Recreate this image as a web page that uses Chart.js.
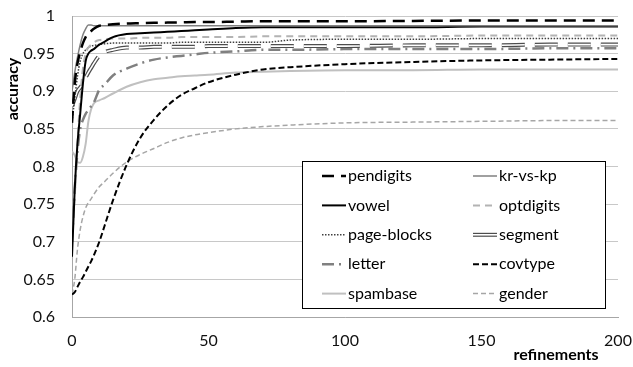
<!DOCTYPE html>
<html>
<head>
<meta charset="utf-8">
<script src="https://cdn.jsdelivr.net/npm/chart.js@4.4.0/dist/chart.umd.min.js"></script>
<style>
  html, body { margin: 0; padding: 0; background: #fff; }
  #wrap { width: 633px; height: 367px; position: relative; }
</style>
</head>
<body>
<div id="wrap"><canvas id="grafico" width="633" height="367"></canvas></div>
<script>
// refinement steps (x) shared by all series
const refinements = [0, 1, 2, 3, 4, 5, 6, 7, 8, 10, 12, 15, 20, 25, 30, 35, 40, 45, 50, 60, 70, 80, 100, 125, 150, 175, 200];

// accuracy per dataset
const pendigits  = [0.858, 0.91, 0.937, 0.952, 0.964, 0.972, 0.977, 0.980, 0.983, 0.987, 0.988, 0.989, 0.990, 0.9905, 0.991, 0.9912, 0.9915, 0.992, 0.992, 0.9925, 0.993, 0.993, 0.993, 0.9935, 0.994, 0.994, 0.994];
const krvskp     = [0.90, 0.925, 0.945, 0.962, 0.975, 0.983, 0.988, 0.988, 0.987, 0.987, 0.987, 0.987, 0.987, 0.987, 0.987, 0.987, 0.987, 0.987, 0.987, 0.987, 0.987, 0.987, 0.987, 0.987, 0.987, 0.987, 0.987];
const vowel      = [0.68, 0.77, 0.83, 0.87, 0.91, 0.94, 0.95, 0.954, 0.956, 0.962, 0.966, 0.972, 0.976, 0.977, 0.978, 0.979, 0.980, 0.981, 0.982, 0.984, 0.985, 0.985, 0.985, 0.985, 0.986, 0.986, 0.986];
const optdigits  = [0.70, 0.76, 0.83, 0.89, 0.93, 0.95, 0.958, 0.962, 0.965, 0.968, 0.969, 0.970, 0.970, 0.971, 0.971, 0.971, 0.972, 0.972, 0.972, 0.972, 0.973, 0.973, 0.973, 0.973, 0.974, 0.974, 0.974];
const pageBlocks = [0.86, 0.89, 0.92, 0.94, 0.95, 0.955, 0.958, 0.96, 0.961, 0.962, 0.963, 0.964, 0.964, 0.964, 0.964, 0.964, 0.965, 0.965, 0.965, 0.965, 0.965, 0.968, 0.969, 0.969, 0.970, 0.970, 0.970];
const segment    = [0.88, 0.89, 0.90, 0.905, 0.91, 0.918, 0.925, 0.931, 0.937, 0.947, 0.952, 0.955, 0.958, 0.958, 0.959, 0.959, 0.959, 0.959, 0.960, 0.960, 0.960, 0.960, 0.960, 0.961, 0.961, 0.962, 0.962];
const letter     = [0.70, 0.77, 0.82, 0.85, 0.862, 0.87, 0.875, 0.88, 0.885, 0.902, 0.909, 0.921, 0.930, 0.937, 0.942, 0.945, 0.947, 0.949, 0.951, 0.953, 0.955, 0.955, 0.956, 0.956, 0.956, 0.957, 0.957];
const covtype    = [0.63, 0.633, 0.64, 0.647, 0.653, 0.66, 0.667, 0.674, 0.682, 0.700, 0.722, 0.755, 0.802, 0.838, 0.862, 0.881, 0.895, 0.904, 0.912, 0.922, 0.929, 0.932, 0.936, 0.939, 0.941, 0.942, 0.943];
const spambase   = [0.82, 0.815, 0.806, 0.805, 0.813, 0.83, 0.86, 0.876, 0.884, 0.888, 0.891, 0.897, 0.906, 0.912, 0.916, 0.918, 0.920, 0.921, 0.922, 0.925, 0.926, 0.927, 0.928, 0.928, 0.929, 0.929, 0.929];
const gender     = [0.63, 0.65, 0.69, 0.716, 0.733, 0.745, 0.752, 0.757, 0.763, 0.773, 0.780, 0.791, 0.806, 0.816, 0.824, 0.832, 0.838, 0.842, 0.845, 0.850, 0.853, 0.855, 0.858, 0.859, 0.860, 0.861, 0.861];

const xTicks = [0, 50, 100, 150, 200];
const yTicks = [0.6, 0.65, 0.7, 0.75, 0.8, 0.85, 0.9, 0.95, 1];

const FONTE = 'Lato, "Open Sans", sans-serif';

function pontos(valores) {
    return valores.map((v, i) => ({ x: refinements[i], y: v }));
}

function serie(label, valores, cor, largura, tracejado, extra) {
    return Object.assign({
        label: label,
        data: pontos(valores),
        borderColor: cor,
        borderWidth: largura,
        borderDash: tracejado,
        pointRadius: 0,
        fill: false,
        cubicInterpolationMode: 'monotone'
    }, extra || {});
}

// first in the list is drawn on top
const datasets = [
    serie('pendigits', pendigits, '#000000', 2.5, [12, 7]),
    serie('kr-vs-kp', krvskp, '#808080', 1.5, []),
    serie('vowel', vowel, '#000000', 2, []),
    serie('optdigits', optdigits, '#b3b3b3', 2, [7, 5]),
    serie('page-blocks', pageBlocks, '#404040', 1.5, [1.5, 1.5]),
    serie('segment-inner', segment, '#ffffff', 1.6, [23, 10], { legenda: false }),
    serie('segment', segment, '#4d4d4d', 4, [23, 10]),
    serie('letter', letter, '#808080', 2.5, [12, 5, 2, 5]),
    serie('covtype', covtype, '#000000', 2, [6, 3]),
    serie('spambase', spambase, '#c0c0c0', 2, []),
    serie('gender', gender, '#a6a6a6', 1.5, [5, 3])
];

// legenda desenhada dentro do gráfico (duas colunas)
const legendaInterna = {
    id: 'legendaInterna',
    afterDraw(chart) {
        const ctx = chart.ctx;
        const itens = chart.data.datasets.filter(d => d.legenda !== false);
        const box = { x: 302.5, y: 161.5, w: 303, h: 147 };
        ctx.save();
        ctx.fillStyle = '#ffffff';
        ctx.fillRect(box.x, box.y, box.w, box.h);
        ctx.strokeStyle = '#000000';
        ctx.lineWidth = 1;
        ctx.setLineDash([]);
        ctx.strokeRect(box.x, box.y, box.w, box.h);
        ctx.font = '16px ' + FONTE;
        ctx.textBaseline = 'middle';
        ctx.fillStyle = '#000000';
        itens.forEach((d, i) => {
            const col = i % 2;
            const lin = Math.floor(i / 2);
            const y = 176 + lin * 29.4;
            const x0 = col === 0 ? 322 : 473;
            const x1 = x0 + 24;
            ctx.beginPath();
            ctx.moveTo(x0, y);
            ctx.lineTo(x1, y);
            ctx.strokeStyle = d.borderColor;
            ctx.lineWidth = d.borderWidth;
            ctx.setLineDash(d.label === 'segment' ? [] : d.borderDash);
            ctx.stroke();
            if (d.label === 'segment') {
                ctx.beginPath();
                ctx.moveTo(x0, y);
                ctx.lineTo(x1, y);
                ctx.strokeStyle = '#ffffff';
                ctx.lineWidth = 1.6;
                ctx.stroke();
            }
            ctx.setLineDash([]);
            ctx.fillStyle = '#000000';
            ctx.fillText(d.label, x1 + 2, y);
        });

        // títulos dos eixos
        ctx.font = 'bold 16px ' + FONTE;
        ctx.textAlign = 'center';
        ctx.fillText('refinements', 556, 355);
        ctx.translate(13, 89);
        ctx.rotate(-Math.PI / 2);
        ctx.fillText('accuracy', 0, 0);
        ctx.restore();
    }
};

new Chart(document.getElementById('grafico'), {
    type: 'line',
    data: { datasets: datasets },
    options: {
        responsive: false,
        animation: false,
        layout: { padding: { top: 16, right: 2, left: 0, bottom: 0 } },
        plugins: { legend: { display: false }, tooltip: { enabled: false } },
        scales: {
            x: {
                type: 'linear',
                min: 0,
                max: 200,
                afterBuildTicks: s => { s.ticks = xTicks.map(v => ({ value: v })); },
                afterFit: s => { s.height = 50; s.paddingLeft = 0; s.paddingRight = 15; },
                grid: { display: false, drawTicks: false },
                border: { display: true, color: '#a6a6a6', width: 1 },
                ticks: { color: '#111', padding: 14, maxRotation: 0, font: { family: FONTE, size: 16 } }
            },
            y: {
                min: 0.6,
                max: 1,
                afterBuildTicks: s => { s.ticks = yTicks.map(v => ({ value: v })); },
                afterFit: s => { s.width = 72; s.paddingTop = 0; s.paddingBottom = 0; },
                grid: { color: '#c8c8c8', lineWidth: 1, drawTicks: false },
                border: { display: true, color: '#a6a6a6', width: 1 },
                ticks: {
                    color: '#111',
                    padding: 17,
                    font: { family: FONTE, size: 16 },
                    callback: v => String(Number(v.toFixed(2)))
                }
            }
        }
    },
    plugins: [legendaInterna]
});
</script>
</body>
</html>
